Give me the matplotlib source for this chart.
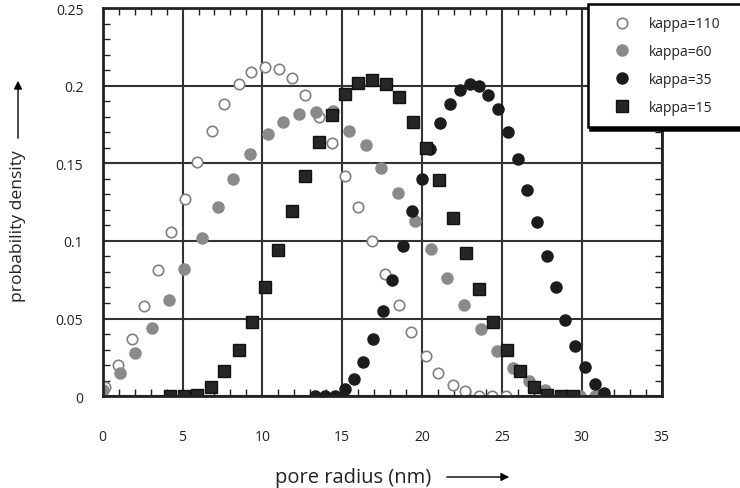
import matplotlib
matplotlib.use("Agg")
import matplotlib.pyplot as plt
from matplotlib.patches import FancyArrowPatch
from matplotlib.ticker import MultipleLocator, FixedLocator, FixedFormatter

plt.rcParams["font.family"] = ["Open Sans", "DejaVu Sans"]

# kappa = 110 (cercles vides)
r_110 = [0.14, 0.96, 1.83, 2.59, 3.46, 4.28, 5.15, 5.90, 6.84, 7.60, 8.53, 9.28,
         10.16, 11.04, 11.85, 12.66, 13.54, 14.36, 15.17, 15.99, 16.86, 17.68,
         18.55, 19.30, 20.24, 20.99, 21.93, 22.69, 23.56, 24.37, 25.25]
p_110 = [0.006, 0.020, 0.037, 0.058, 0.081, 0.106, 0.127, 0.151, 0.171, 0.188,
         0.201, 0.209, 0.212, 0.211, 0.205, 0.194, 0.180, 0.163, 0.142, 0.122,
         0.100, 0.079, 0.059, 0.041, 0.026, 0.015, 0.007, 0.003, 0.0, 0.0, 0.0]

# kappa = 60 (cercles gris)
r_60 = [0.02, 1.08, 2.03, 3.09, 4.15, 5.09, 6.22, 7.22, 8.16, 9.22, 10.35, 11.29,
        12.29, 13.36, 14.42, 15.42, 16.49, 17.43, 18.49, 19.56, 20.56, 21.56,
        22.62, 23.69, 24.69, 25.69, 26.69, 27.69, 28.82, 29.88, 30.82]
p_60 = [0.004, 0.015, 0.028, 0.044, 0.062, 0.082, 0.102, 0.122, 0.140, 0.156,
        0.169, 0.177, 0.182, 0.183, 0.184, 0.171, 0.162, 0.147, 0.131, 0.113,
        0.095, 0.076, 0.059, 0.043, 0.029, 0.018, 0.010, 0.004, 0.0, 0.0, 0.0]

# kappa = 35 (cercles noirs)
r_35 = [13.29, 13.92, 14.55, 15.17, 15.74, 16.30, 16.93, 17.55, 18.12, 18.81,
        19.37, 20.00, 20.50, 21.12, 21.75, 22.37, 23.00, 23.56, 24.13, 24.75,
        25.38, 26.00, 26.57, 27.19, 27.82, 28.38, 28.94, 29.57, 30.20, 30.82, 31.39]
p_35 = [0.0, 0.0, 0.0, 0.0045, 0.011, 0.022, 0.037, 0.055, 0.075, 0.097,
        0.119, 0.140, 0.159, 0.176, 0.188, 0.197, 0.201, 0.200, 0.194, 0.185,
        0.170, 0.153, 0.133, 0.112, 0.090, 0.070, 0.049, 0.032, 0.019, 0.008, 0.002]

# kappa = 15 (carres noirs)
r_15 = [4.21, 5.09, 5.90, 6.78, 7.59, 8.53, 9.35, 10.16, 10.98, 11.85, 12.67,
        13.54, 14.36, 15.17, 15.99, 16.86, 17.74, 18.55, 19.43, 20.24, 21.06,
        21.93, 22.75, 23.56, 24.44, 25.32, 26.13, 27.00, 27.82, 28.69, 29.44]
p_15 = [0.0, 0.0, 0.001, 0.006, 0.016, 0.030, 0.048, 0.070, 0.094, 0.119, 0.142,
        0.164, 0.181, 0.195, 0.202, 0.204, 0.201, 0.193, 0.177, 0.160, 0.139,
        0.115, 0.092, 0.069, 0.048, 0.030, 0.016, 0.006, 0.001, 0.0, 0.0]

y_ticks = [0, 0.05, 0.1, 0.15, 0.2, 0.25]
y_labels = ["0", "0.05", "0.1", "0.15", "0.2", "0.25"]
x_ticks = [0, 5, 10, 15, 20, 25, 30, 35]


fig = plt.figure(figsize=(7.4, 4.89), dpi=100)
ax = fig.add_axes([0.1388, 0.188, 0.894 - 0.1388, 0.981 - 0.188])

ax.plot(r_110, p_110, "o", ms=7.5, mfc="white", mec="#808080", mew=1.2,
        label="kappa=110")
ax.plot(r_60, p_60, "o", ms=8, mfc="#8a8a8a", mec="#8a8a8a", label="kappa=60")
ax.plot(r_35, p_35, "o", ms=8, mfc="#1c1c1c", mec="#1c1c1c", label="kappa=35")
ax.plot(r_15, p_15, "s", ms=9, mfc="#262626", mec="#111111", label="kappa=15")

ax.set_xlim(0, 35)
ax.set_ylim(0, 0.25)
ax.xaxis.set_major_locator(FixedLocator(x_ticks))
ax.xaxis.set_minor_locator(MultipleLocator(1))
ax.yaxis.set_major_locator(FixedLocator(y_ticks))
ax.yaxis.set_major_formatter(FixedFormatter(y_labels))
ax.yaxis.set_minor_locator(MultipleLocator(0.01))

ax.tick_params(which="both", direction="in", top=True, right=True,
               color="#222222", labelcolor="#222222", labelsize=10)
ax.tick_params(which="major", length=0)
ax.tick_params(which="minor", length=5, width=1)
ax.tick_params(axis="x", which="major", pad=24)
ax.tick_params(axis="y", which="major", pad=14)

ax.grid(True, which="major", color="#333333", lw=1.5)
for s in ax.spines.values():
    s.set_linewidth(2)
    s.set_color("#222222")

# legende avec ombre noire, elle deborde a droite
leg = ax.legend(loc="upper left", bbox_to_anchor=(0.794, 0.5, 0.25, 0.49),
                bbox_transform=fig.transFigure, mode="expand", borderaxespad=0,
                numpoints=1, fontsize=10, borderpad=0.9, labelspacing=0.92,
                handlelength=3.1, handletextpad=0.45, fancybox=False,
                framealpha=1, edgecolor="black",
                shadow={"color": "black", "alpha": 1})
leg.get_frame().set_linewidth(1.8)
for t in leg.get_texts():
    t.set_color("#222222")

# titres des axes avec fleches
fig.text(353 / 740, 1 - 478 / 489, "pore radius (nm)", ha="center", va="center",
         fontsize=14.5, color="#222222")
fig.patches.append(FancyArrowPatch(
    (444 / 740, 1 - 478 / 489), (512 / 740, 1 - 478 / 489),
    transform=fig.transFigure, arrowstyle="-|>", mutation_scale=12,
    color="black", lw=1))

fig.text(18 / 740, 1 - 226 / 489, "probability density", ha="center", va="center",
         rotation=90, fontsize=12.6, color="#222222")
fig.patches.append(FancyArrowPatch(
    (18 / 740, 1 - 142 / 489), (18 / 740, 1 - 79 / 489),
    transform=fig.transFigure, arrowstyle="-|>", mutation_scale=12,
    color="black", lw=1))

fig.savefig("out.png", dpi=100)
